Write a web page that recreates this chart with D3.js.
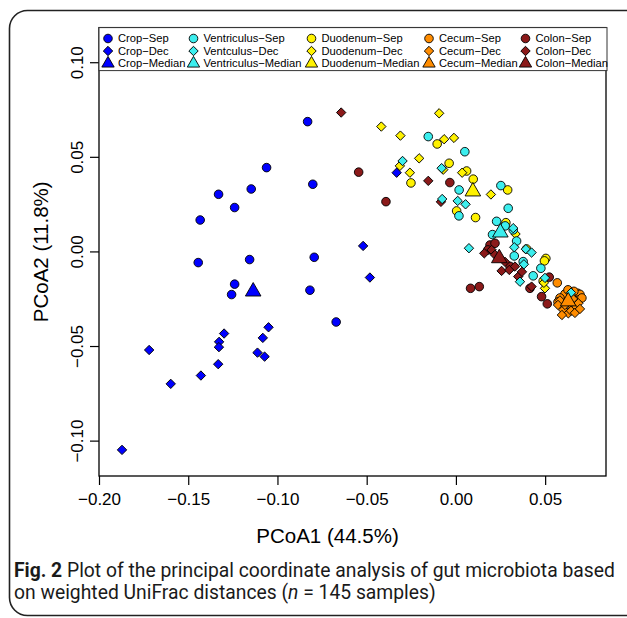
<!DOCTYPE html>
<html>
<head>
<meta charset="utf-8">
<script src="https://cdn.jsdelivr.net/npm/d3@7"></script>
<style>
body{margin:0;background:#fff}
svg{display:block}
</style>
</head>
<body>
<svg id="chart"></svg>
<script>
// groups, colours and legend text
const groups = ['Crop','Ventriculus','Duodenum','Cecum','Colon']
const colors = ['#0000ff','#3ceeee','#fff200','#ff8c00','#8b1a1a']
const sepLabels = ['Crop−Sep','Ventriculus−Sep','Duodenum−Sep','Cecum−Sep','Colon−Sep']
const decLabels = ['Crop−Dec','Ventculus−Dec','Duodenum−Dec','Cecum−Dec','Colon−Dec']
const medLabels = ['Crop−Median','Ventriculus−Median','Duodenum−Median','Cecum−Median','Colon−Median']
const xTicks = [-0.20,-0.15,-0.10,-0.05,0.00,0.05]
const yTicks = [-0.10,-0.05,0.00,0.05,0.10]

// [PCoA1, PCoA2]
const cropSep = [[-0.0831,0.0686],[-0.1061,0.0443],[-0.1147,0.0330],[-0.1330,0.0302],[-0.1240,0.0232],
  [-0.1433,0.0166],[-0.0802,0.0355],[-0.1444,-0.0059],[-0.1156,-0.0043],[-0.0794,-0.0031],
  [-0.1240,-0.0173],[-0.1257,-0.0228],[-0.0818,-0.0205],[-0.0671,-0.0373]]
const cropDec = [[-0.0520,0.0029],[-0.0482,-0.0138],[-0.1050,-0.0401],[-0.1082,-0.0457],[-0.1299,-0.0434],
  [-0.1327,-0.0478],[-0.1328,-0.0506],[-0.1112,-0.0535],[-0.1072,-0.0556],[-0.1332,-0.0596],
  [-0.1429,-0.0656],[-0.1598,-0.0700],[-0.1719,-0.0521],[-0.1871,-0.1049],[-0.0332,0.0416]]
const ventSep = [[-0.0155,0.0607],[0.0050,0.0527],[0.0018,0.0325],[0.0017,0.0188],[0.0252,0.0348],
  [0.0293,0.0228],[0.0228,0.0159],[0.0276,0.0135],[0.0205,0.0089],[0.0321,0.0114],
  [0.0340,0.0055],[0.0327,-0.0024],[0.0476,-0.0089],[0.0433,-0.0129],[0.0377,-0.0054]]
const ventDec = [[-0.0299,0.0478],[-0.0080,0.0440],[-0.0077,0.0277],[0.0010,0.0267],[0.0054,0.0249],
  [0.0073,0.0017],[0.0321,0.0123],[0.0327,0.0022],[0.0392,0.0012],[0.0424,-0.0006],
  [0.0381,-0.0068],[0.0499,-0.0140],[0.0359,-0.0160],[0.0645,-0.0218]]
const duoSep = [[-0.0105,0.0568],[-0.0038,0.0466],[0.0060,0.0425],[-0.0252,0.0362],[0.0097,0.0382],
  [0.0290,0.0325],[0.0004,0.0214],[0.0110,0.0179],[0.0280,0.0152],[0.0396,0.0013],
  [0.0504,-0.0037],[0.0489,-0.0156],[0.0496,-0.0050]]
const duoDec = [[-0.0094,0.0730],[-0.0418,0.0660],[-0.0311,0.0612],[-0.0066,0.0593],[-0.0011,0.0600],
  [-0.0206,0.0492],[-0.0314,0.0452],[-0.0258,0.0416],[-0.0071,0.0432],[0.0035,0.0416],
  [0.0196,0.0301],[0.0334,0.0092],[0.0499,-0.0195],[0.0493,-0.0166]]
const cecSep = [[0.0568,-0.0166],[0.0682,-0.0221],[0.0695,-0.0227],[0.0661,-0.0211],[0.0611,-0.0225],
  [0.0689,-0.0256],[0.0583,-0.0246],[0.0645,-0.0235],[0.0673,-0.0277],[0.0600,-0.0283],
  [0.0706,-0.0246],[0.0628,-0.0203],[0.0650,-0.0304],[0.0572,-0.0267]]
const cecDec = [[0.0583,-0.0259],[0.0601,-0.0309],[0.0630,-0.0327],[0.0673,-0.0295],[0.0686,-0.0274],
  [0.0611,-0.0283],[0.0645,-0.0314],[0.0572,-0.0283],[0.0656,-0.0251],[0.0667,-0.0325],
  [0.0594,-0.0336],[0.0695,-0.0304]]
const colSep = [[-0.0545,0.0419],[-0.0392,0.0263],[-0.0034,0.0364],[0.0082,-0.0195],[0.0131,-0.0186],
  [0.0191,0.0034],[0.0219,0.0043],[0.0303,-0.0079],[0.0415,-0.0195],[0.0480,-0.0239],
  [0.0512,-0.0277],[0.0523,-0.0136],[0.0583,-0.0265],[0.0179,0.0008]]
const colDec = [[-0.0643,0.0734],[-0.0155,0.0373],[-0.0084,0.0262],[0.0159,-0.0010],[0.0200,0.0008],
  [0.0256,-0.0103],[0.0299,-0.0098],[0.0331,-0.0080],[0.0349,-0.0133],[0.0424,-0.0186],
  [0.0275,-0.0055],[0.0219,-0.0018],[0.0370,-0.0108]]
// medians: Crop, Ventriculus, Duodenum, Cecum, Colon
const medians = [[-0.1136,-0.0212],[0.0249,0.0100],[0.0095,0.0317],[0.0629,-0.0264],[0.0243,-0.0036]]

let width = 627
let height = 618
let padLeft = 99, padRight = 606, padTop = 27.6, padBottom = 476
let svg = d3.select('#chart').attr('width', width).attr('height', height)
let font = "'Liberation Sans', Arimo, Arial, sans-serif"

let xScale = d3.scaleLinear().domain([-0.2, 0.0841]).range([padLeft, padRight])
let yScale = d3.scaleLinear().domain([-0.1187, 0.1183]).range([padBottom, padTop])

let circle = d3.symbol().type(d3.symbolCircle).size(58)
let diamond = d3.symbol().type(d3.symbolSquare).size(44)
let triangle = d3.symbol().type(d3.symbolTriangle).size(105)

// outer rounded frame
svg.append('rect')
  .attr('x', 9.5).attr('y', 10.5).attr('width', 640).attr('height', 605)
  .attr('rx', 18).attr('fill', 'none').attr('stroke', '#222').attr('stroke-width', 1.6)

// axes
let fmt = d3.format('.2f')
let xAxis = d3.axisBottom(xScale).tickValues(xTicks).tickSize(9).tickPadding(8).tickFormat(fmt)
let gx = svg.append('g').attr('transform', 'translate(0,' + padBottom + ')').call(xAxis)
gx.select('.domain').remove()
gx.selectAll('text').attr('font-family', font).attr('font-size', 17).attr('fill', '#000')
gx.selectAll('line').attr('stroke', '#000').attr('stroke-width', 1.2)

let yAxis = d3.axisLeft(yScale).tickValues(yTicks).tickSize(9).tickFormat(fmt)
let gy = svg.append('g').attr('transform', 'translate(' + padLeft + ',0)').call(yAxis)
gy.select('.domain').remove()
gy.selectAll('line').attr('stroke', '#000').attr('stroke-width', 1.2)
gy.selectAll('text')
  .attr('font-family', font).attr('font-size', 17).attr('fill', '#000')
  .attr('x', 0).attr('y', -22).attr('dy', '0.35em')
  .attr('text-anchor', 'middle')
  .attr('transform', 'rotate(-90)')

// axis titles
svg.append('text').attr('x', (padLeft + padRight) / 2 - 25).attr('y', 543)
  .attr('text-anchor', 'middle').attr('font-family', font).attr('font-size', 20.5)
  .text('PCoA1 (44.5%)')
svg.append('text').attr('transform', 'translate(48,' + ((padTop + padBottom) / 2) + ') rotate(-90)')
  .attr('text-anchor', 'middle').attr('font-family', font).attr('font-size', 20.5)
  .text('PCoA2 (11.8%)')

// points
let plot = svg.append('g')
let drawSet = (pts, sym, col) => {
  plot.selectAll(null).data(pts).enter().append('path')
    .attr('d', sym)
    .attr('transform', d => 'translate(' + xScale(d[0]) + ',' + yScale(d[1]) + ')' + (sym === diamond ? ' rotate(45)' : ''))
    .attr('fill', col).attr('stroke', '#000').attr('stroke-width', 0.9)
}
drawSet(colSep, circle, colors[4])
drawSet(colDec, diamond, colors[4])
drawSet(cecSep, circle, colors[3])
drawSet(cecDec, diamond, colors[3])
drawSet(duoSep, circle, colors[2])
drawSet(duoDec, diamond, colors[2])
drawSet(ventSep, circle, colors[1])
drawSet(ventDec, diamond, colors[1])
drawSet(cropSep, circle, colors[0])
drawSet(cropDec, diamond, colors[0])

plot.selectAll(null).data(medians).enter().append('path')
  .attr('d', triangle)
  .attr('transform', d => 'translate(' + xScale(d[0]) + ',' + yScale(d[1]) + ')')
  .attr('fill', (d, i) => colors[i]).attr('stroke', '#000').attr('stroke-width', 0.9)

// plot box
svg.append('rect').attr('x', padLeft).attr('y', padTop).attr('width', padRight - padLeft).attr('height', padBottom - padTop)
  .attr('fill', 'none').attr('stroke', '#000').attr('stroke-width', 1.3)

// legend
let leg = svg.append('g')
leg.append('rect').attr('x', padLeft).attr('y', padTop).attr('width', padRight - padLeft + 1).attr('height', 43)
  .attr('fill', '#fff').attr('stroke', '#333').attr('stroke-width', 1)
let colX = [108, 193.5, 311.5, 429, 525.5]
let rowY = [38.5, 51, 63.5]
let legCircle = d3.symbol().type(d3.symbolCircle).size(58)
let legDiamond = d3.symbol().type(d3.symbolSquare).size(44)
let legTri = d3.symbol().type(d3.symbolTriangle).size(66)
let rows = [[sepLabels, legCircle, ''], [decLabels, legDiamond, ' rotate(45)'], [medLabels, legTri, '']]
rows.forEach((r, ri) => {
  groups.forEach((g, gi) => {
    leg.append('path').attr('d', r[1])
      .attr('transform', 'translate(' + colX[gi] + ',' + rowY[ri] + ')' + r[2])
      .attr('fill', colors[gi]).attr('stroke', '#000').attr('stroke-width', 0.9)
    leg.append('text').attr('x', colX[gi] + 10).attr('y', rowY[ri]).attr('dy', '0.35em')
      .attr('font-family', font).attr('font-size', 11.2).text(r[0][gi])
  })
})

// caption, pieces placed one after another, sized so line 1 spans the figure
let capFont = 'Roboto, "Noto Sans", sans-serif'
let capLine = (y, parts, fs) => {
  let x = 14
  parts.forEach(p => {
    let t = svg.append('text').attr('x', x).attr('y', y)
      .attr('font-family', capFont).attr('font-size', fs).attr('fill', '#1a1a1a')
      .attr('font-weight', p[1] === 'b' ? 'bold' : 'normal')
      .attr('font-style', p[1] === 'i' ? 'italic' : 'normal')
      .text(p[0])
    x += t.node().getComputedTextLength()
  })
  return x - 14
}
let line1 = [['Fig. 2', 'b'], ['\u00a0Plot of the principal coordinate analysis of gut microbiota based', '']]
let line2 = [['on weighted UniFrac distances (', ''], ['n', 'i'], ['\u00a0=\u00a0145 samples)', '']]
let probe = svg.append('g')
let w = 0
line1.forEach(p => {
  let t = probe.append('text').attr('font-family', capFont).attr('font-size', 16)
    .attr('font-weight', p[1] === 'b' ? 'bold' : 'normal').text(p[0])
  w += t.node().getComputedTextLength()
})
probe.remove()
let capSize = 16 * 601 / w
capLine(577, line1, capSize)
capLine(599, line2, capSize)
</script>
</body>
</html>
